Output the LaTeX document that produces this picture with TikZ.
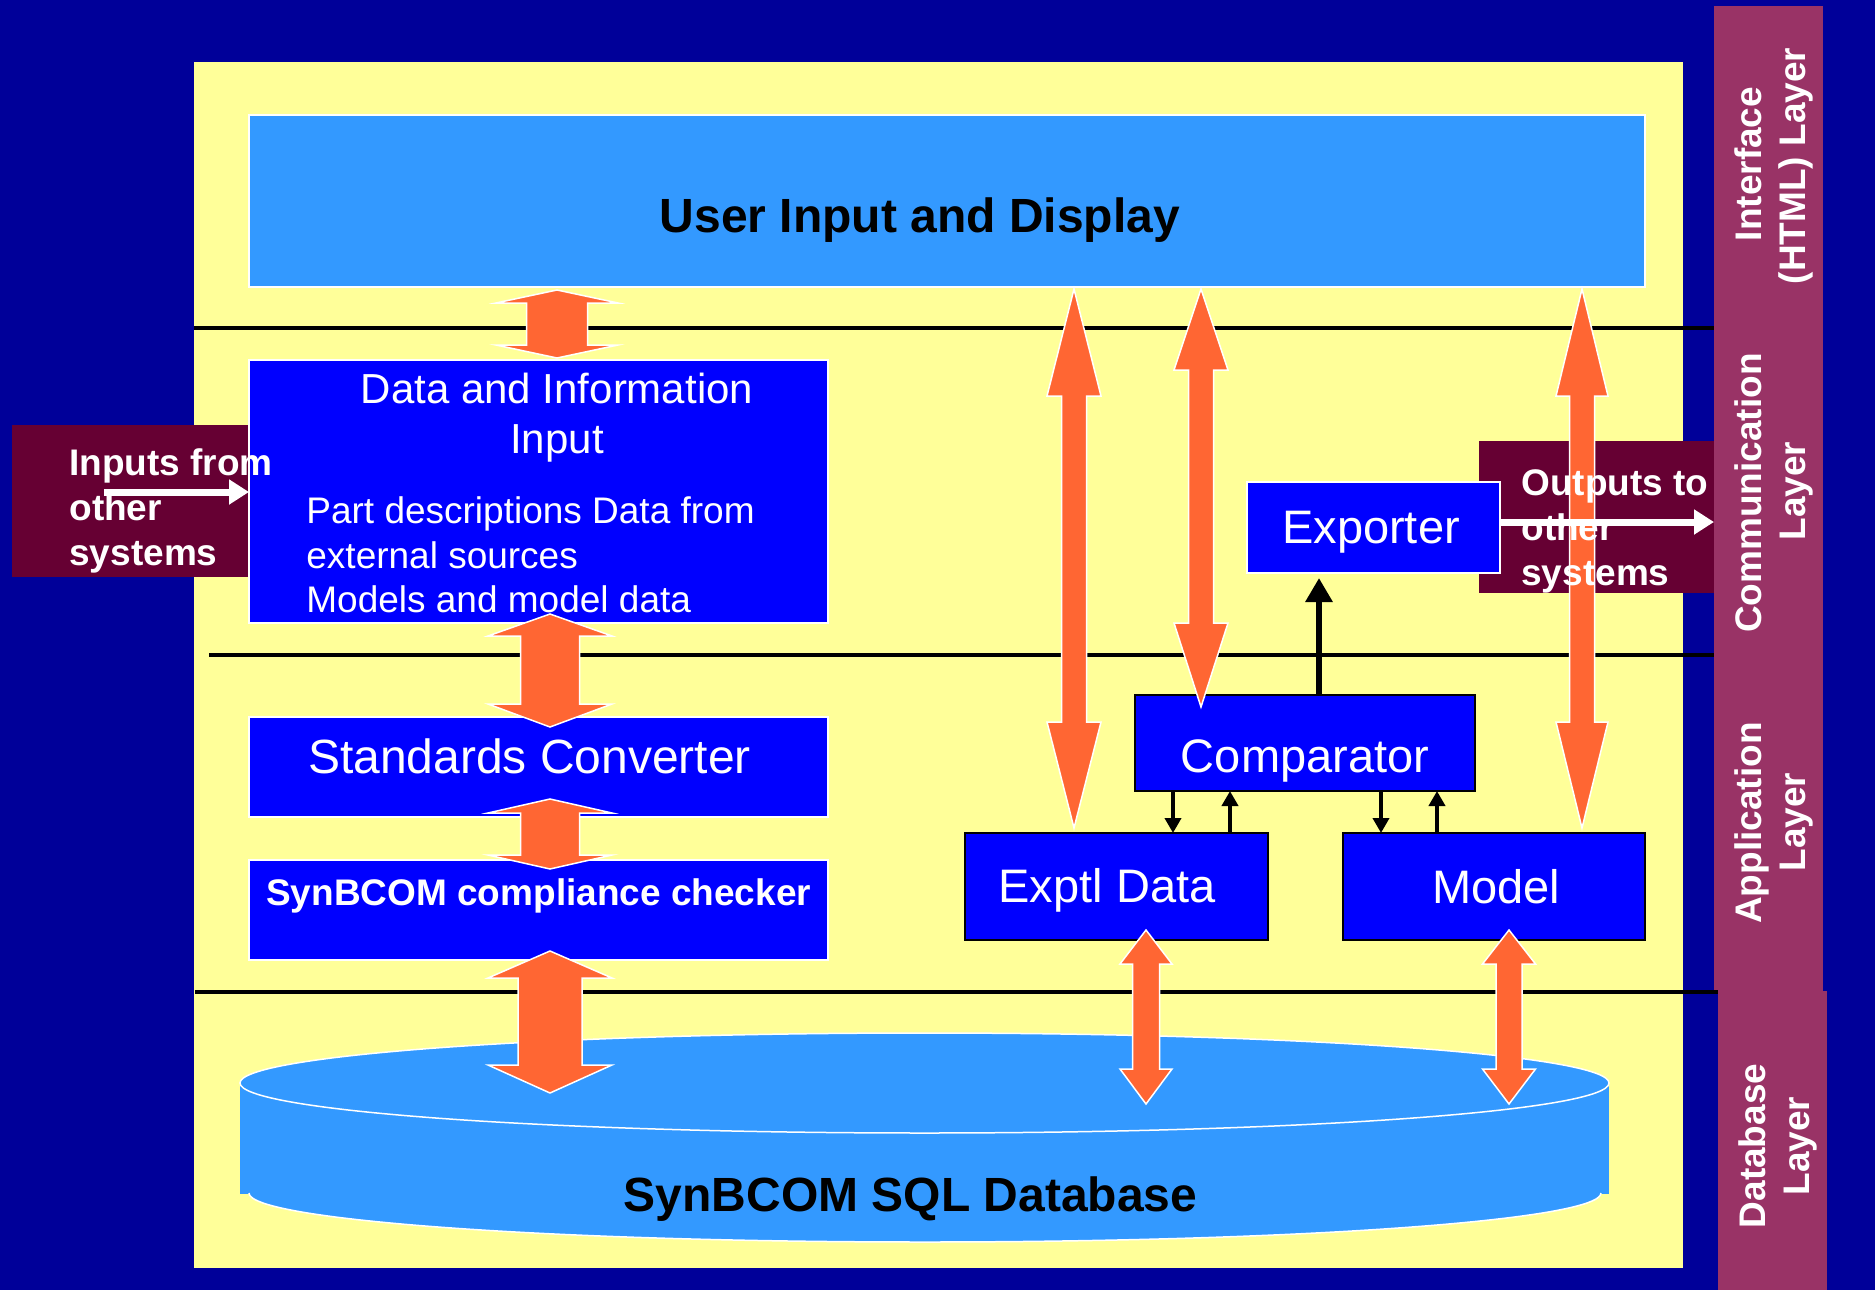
\documentclass[tikz,border=0pt]{standalone}
\usepackage{fontspec}
\setmainfont{Liberation Sans}
\usetikzlibrary{arrows.meta,shapes.geometric,calc}
\definecolor{navyc}{HTML}{000099}
\definecolor{panelc}{HTML}{FFFF99}
\definecolor{lbluec}{HTML}{3399FF}
\definecolor{bluec}{HTML}{0000FF}
\definecolor{orangec}{HTML}{FF6633}
\definecolor{maroonc}{HTML}{660033}
\definecolor{pinkc}{HTML}{993366}
\newcommand\rbox[6]{\node[inner sep=0pt, outer sep=0pt, #6, minimum width={(#4-#2)*0.5pt}, minimum height={(#5-#3)*0.5pt}] (#1) at ({(#2+#4)/2},{(#3+#5)/2}) {};}
\newcommand\fatarrow[6]{%
  \draw[fat] let \p1=(#1), \p2=(#2) in
   (\x1,\y1) -- (\x1+#5*0.5pt,\y1-#3*0.5pt) -- (\x1+#6*0.5pt,\y1-#3*0.5pt)
   -- (\x1+#6*0.5pt,\y2+#4*0.5pt) -- (\x1+#5*0.5pt,\y2+#4*0.5pt) -- (\x1,\y2)
   -- (\x1-#5*0.5pt,\y2+#4*0.5pt) -- (\x1-#6*0.5pt,\y2+#4*0.5pt)
   -- (\x1-#6*0.5pt,\y1-#3*0.5pt) -- (\x1-#5*0.5pt,\y1-#3*0.5pt) -- cycle;}
\newcommand\fBig{\fontsize{24}{28}\selectfont}
\newcommand\fMid{\fontsize{23.5}{28}\selectfont}
\newcommand\fTit{\fontsize{21}{25}\selectfont}
\newcommand\fSml{\fontsize{18.5}{22}\selectfont}
\begin{document}
\begin{tikzpicture}[x=0.5pt,y=-0.5pt,
  boxw/.style={draw=white, line width=0.75pt, fill=bluec},
  boxk/.style={draw=black, line width=1pt, fill=bluec},
  fat/.style={fill=orangec, draw=white, line width=0.75pt, line join=miter},
  sepline/.style={draw=black, line width=2.25pt},
  lbl/.style={text=white, inner sep=0pt, anchor=base},
  lblw/.style={text=white, inner sep=0pt, anchor=base west},
  laytxt/.style={text=white, inner sep=0pt, anchor=base, rotate=90, font=\bfseries\fSml},
  bigk/.style={draw=black, line width=3pt, -{Triangle[length=12pt,width=13pt]}},
  smk/.style={draw=black, line width=2pt, -{Triangle[length=7.5pt,width=8pt]}},
  warr/.style={draw=white, line width=3.5pt, -{Triangle[length=10pt,width=12pt]}}]
\useasboundingbox (0,0) rectangle (1875,1290);
\fill[navyc] (0,0) rectangle (1875,1290);
% layer columns and panel
\rbox{lay1}{1714}{6}{1823}{991}{fill=pinkc}
\rbox{lay2}{1718}{991}{1827}{1290}{fill=pinkc}
\rbox{panel}{194}{62}{1683}{1268}{fill=panelc}
% separator lines
\coordinate (l1a) at (194,328); \coordinate (l1b) at (1714,328);
\coordinate (l2a) at (209,655); \coordinate (l2b) at (1714,655);
\coordinate (l3a) at (195,992); \coordinate (l3b) at (1718,992);
\draw[sepline] (l1a) -- (l1b);
\draw[sepline] (l2a) -- (l2b);
\draw[sepline] (l3a) -- (l3b);
% external systems boxes
\rbox{inbox}{12}{425}{249}{577}{fill=maroonc}
\rbox{outbox}{1479}{441}{1714}{593}{fill=maroonc}
% left column boxes
\rbox{ui}{249}{115}{1645}{287}{boxw, fill=lbluec}
\rbox{dii}{249}{360}{828}{623}{boxw}
\rbox{sc}{249}{717}{828}{817}{boxw}
\rbox{cc}{249}{860}{828}{960}{boxw}
% database cylinder
\fill[lbluec] (240,1083) rectangle (1609,1194);
\fill[lbluec] (249,1193) arc[start angle=180,end angle=360,x radius=338pt,y radius=24.5pt] -- cycle;
\draw[white, line width=0.75pt] (249,1193) arc[start angle=180,end angle=360,x radius=338pt,y radius=24.5pt];
\node[ellipse, fill=lbluec, draw=white, line width=0.75pt, minimum width=684.5pt, minimum height=50pt, inner sep=0pt] (db) at (924.5,1083) {};
% application boxes
\rbox{comp}{1135}{695}{1475}{791}{boxk}
\rbox{exd}{965}{833}{1268}{940}{boxk}
\rbox{mdl}{1343}{833}{1645}{940}{boxk}
% black connectors
\coordinate (k1) at (1319,0);
\coordinate (k2) at (1173,0);
\coordinate (k3) at (1230,0);
\coordinate (k4) at (1381,0);
\coordinate (k5) at (1437,0);
\draw[smk] (comp.south -| k2) -- (exd.north -| k2);
\draw[smk] (exd.north -| k3) -- (comp.south -| k3);
\draw[smk] (comp.south -| k4) -- (mdl.north -| k4);
\draw[smk] (mdl.north -| k5) -- (comp.south -| k5);
% orange double arrows
\coordinate (a1t) at (557,290);  \coordinate (a1b) at (557,358);
\coordinate (a2t) at (550,614);  \coordinate (a2b) at (550,727);
\coordinate (a3t) at (550,799);  \coordinate (a3b) at (550,869);
\coordinate (a4t) at (550,951);  \coordinate (a4b) at (550,1093);
\coordinate (r1t) at (1074,289); \coordinate (r1b) at (1074,828);
\coordinate (r2t) at (1201,289); \coordinate (r2b) at (1201,707);
\coordinate (r3t) at (1582,289); \coordinate (r3b) at (1582,828);
\coordinate (d1t) at (1146,930); \coordinate (d1b) at (1146,1104);
\coordinate (d2t) at (1509,930); \coordinate (d2b) at (1509,1104);
\fatarrow{a1t}{a1b}{13}{13}{61}{30.5}
\fatarrow{a2t}{a2b}{22}{23}{62}{29.5}
\fatarrow{a3t}{a3b}{14}{14}{62}{29.5}
\fatarrow{a4t}{a4b}{27}{28}{62}{32}
\fatarrow{r1t}{r1b}{107}{106}{27}{12.5}
\fatarrow{r2t}{r2b}{81}{84}{27}{12.5}
\fatarrow{r3t}{r3b}{107}{106}{26}{12.5}
\fatarrow{d1t}{d1b}{34}{35}{26}{13.5}
\fatarrow{d2t}{d2b}{34}{35}{26.5}{13}
% exporter
\rbox{exp}{1247}{482}{1500}{573}{boxw}
\draw[bigk, shorten >=2.5pt] (comp.north -| k1) -- (exp.south -| k1);
% texts
\node[lbl, text=black, font=\bfseries\fBig] (tui) at (920,232) {User Input and Display};
\node[lbl, font=\fTit] (tdi1) at (557,403) {Data and Information};
\node[lbl, font=\fTit] (tdi2) at (557,453) {Input};
\node[lblw, font=\fSml] (tdb1) at (306,523) {Part descriptions Data from};
\node[lblw, font=\fSml] (tdb2) at (306,568) {external sources};
\node[lblw, font=\fSml] (tdb3) at (306,612) {Models and model data};
\node[lbl, font=\fBig] (tsc) at (529.5,773) {Standards Converter};
\node[lbl, font=\bfseries\fSml] (tcc) at (538.7,905) {SynBCOM compliance checker};
\node[lblw, font=\bfseries\fSml] (tin1) at (69,475) {Inputs from};
\node[lblw, font=\bfseries\fSml] (tin2) at (69,520) {other};
\node[lblw, font=\bfseries\fSml] (tin3) at (69,565) {systems};
\node[lblw, font=\bfseries\fSml] (tout1) at (1521,495) {Outputs to};
\node[lblw, font=\bfseries\fSml] (tout2) at (1521,540) {other};
\node[lblw, font=\bfseries\fSml] (tout3) at (1521,585) {systems};
\node[lbl, font=\fMid] (texp) at (1371,543) {Exporter};
\node[lbl, font=\fMid] (tcomp) at (1305,772) {Comparator};
\node[lbl, font=\fMid] (texd) at (1107,902) {Exptl Data};
\node[lbl, font=\fMid] (tmdl) at (1496,903) {Model};
\node[lbl, text=black, font=\bfseries\fBig] (tdbase) at (910.6,1211) {SynBCOM SQL Database};
% layer labels
\node[laytxt] (ly1a) at (1761,164) {Interface};
\node[laytxt] (ly1b) at (1805,166) {(HTML) Layer};
\node[laytxt] (ly2a) at (1761,493) {Communication};
\node[laytxt] (ly2b) at (1805,491) {Layer};
\node[laytxt] (ly3a) at (1761,823) {Application};
\node[laytxt] (ly3b) at (1805,822) {Layer};
\node[laytxt] (ly4a) at (1765,1146) {Database};
\node[laytxt] (ly4b) at (1809,1146) {Layer};
% white arrows
\coordinate (inS) at (104,492);
\coordinate (outE) at (1714,522);
\draw[warr] (inS) -- (inS -| dii.west);
\draw[warr] (exp.east |- outE) -- (outE);
\end{tikzpicture}
\end{document}
